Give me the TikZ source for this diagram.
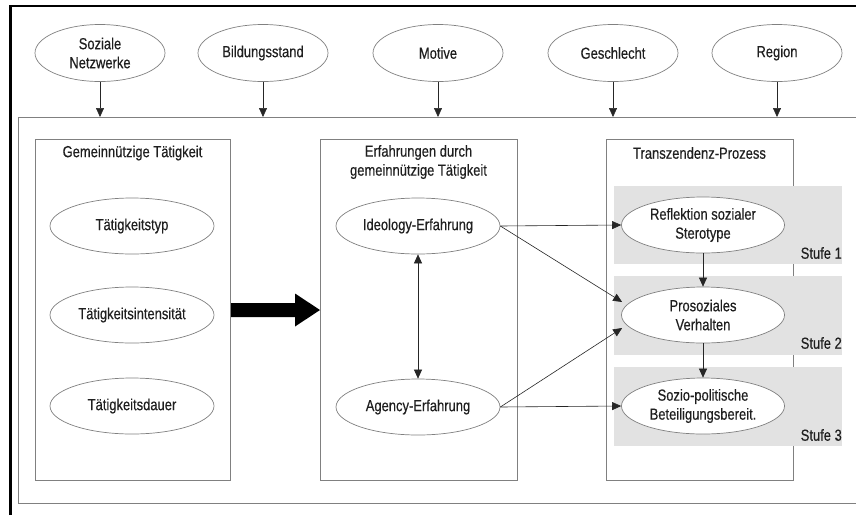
\documentclass[tikz,border=0pt]{standalone}
\usepackage{fontspec}
\setmainfont[FakeStretch=0.81,FakeBold=0.4]{Liberation Sans}
\usetikzlibrary{shapes.geometric,arrows.meta,calc}
\definecolor{linegray}{gray}{0.5}
\definecolor{bandgray}{gray}{0.885}
\definecolor{txt}{gray}{0.12}
\begin{document}
\begin{tikzpicture}[x=1pt,y=-1pt,
  ell/.style={ellipse, draw=linegray, line width=0.7pt, fill=white, inner sep=0pt,
    align=center, text=txt, font=\fontsize{16}{19}\selectfont},
  topell/.style={ell, minimum width=130, minimum height=57},
  midell/.style={ell, minimum width=164, minimum height=56},
  lbl/.style={text=txt, font=\fontsize{16}{19}\selectfont, align=center, inner sep=0pt},
  arr/.style={-{Triangle[length=9pt,width=8pt]}, line width=0.6pt, draw=black!85},
  darr/.style={{Triangle[length=9pt,width=8pt]}-{Triangle[length=9pt,width=8pt]}, line width=0.6pt, draw=black!85},
  box/.style={draw=linegray, line width=0.7pt}]
\useasboundingbox (0,0) rectangle (856,515);
\fill[white] (0,0) rectangle (856,515);
% outer black frame (cropped)
\draw[line width=2.7pt] (10.7,515) -- (10.7,6) -- (856,6);
% gray outer frame
\draw[box] (856,117) -- (18,117) -- (18,503) -- (856,503);
% three boxes
\draw[box] (35,139) rectangle (230,480);
\draw[box] (320,139) rectangle (517,480);
\draw[box] (606,139) rectangle (793,480);
% bands
\fill[bandgray] (614,186) rectangle (842,264);
\fill[bandgray] (614,276) rectangle (842,355);
\fill[bandgray] (614,367) rectangle (842,446);
% top ellipses
\node[topell] (sn) at (100,53) {Soziale\\Netzwerke};
\node[topell] (bs) at (263,53) {Bildungsstand};
\node[topell] (mo) at (438,53) {Motive};
\node[topell] (ge) at (613,53) {Geschlecht};
\node[topell] (re) at (777,53) {Region};
\coordinate (f1) at (100,117);
\coordinate (f2) at (263,117);
\coordinate (f3) at (438,117);
\coordinate (f4) at (613,117);
\coordinate (f5) at (777,117);
\draw[arr] (sn) -- (f1);
\draw[arr] (bs) -- (f2);
\draw[arr] (mo) -- (f3);
\draw[arr] (ge) -- (f4);
\draw[arr] (re) -- (f5);
% titles
\node[lbl] (t1) at (132.5,153) {Gemeinnützige Tätigkeit};
\node[lbl] (t2) at (418.5,162) {Erfahrungen durch\\gemeinnützige Tätigkeit};
\node[lbl] (t3) at (699.5,153) {Transzendenz-Prozess};
% left ellipses
\node[midell] (typ) at (132,226) {Tätigkeitstyp};
\node[midell] (int) at (132,315) {Tätigkeitsintensität};
\node[midell] (dau) at (132,406) {Tätigkeitsdauer};
% middle ellipses
\node[midell] (ide) at (418,226) {Ideology-Erfahrung};
\node[midell] (age) at (418,407) {Agency-Erfahrung};
% right ellipses
\node[midell, minimum width=163] (ref) at (703,225) {Reflektion sozialer\\Sterotype};
\node[midell, minimum width=163] (pro) at (703,315) {Prosoziales\\Verhalten};
\node[midell, minimum width=163] (soz) at (703,406) {Sozio-politische\\Beteiligungsbereit.};
% stage labels
\node[lbl, anchor=east] (s1) at (842,253) {Stufe 1};
\node[lbl, anchor=east] (s2) at (842,343) {Stufe 2};
\node[lbl, anchor=east] (s3) at (842,435) {Stufe 3};
% big arrow
\fill[black] (231,303) -- (295,303) -- (295,293.5) -- (320,310) -- (295,326.5) -- (295,317) -- (231,317) -- cycle;
% connectors
\draw[darr] (ide) -- (age);
\draw[arr] (ide.east) -- (ref.west);
\draw[arr] (ide.east) -- ($(pro.west)+(1,-13)$);
\draw[arr] (age.east) -- ($(pro.west)+(1,13)$);
\draw[arr] (age.east) -- (soz.west);
\draw[arr] (ref) -- (pro);
\draw[arr] (pro) -- (soz);
\end{tikzpicture}
\end{document}
